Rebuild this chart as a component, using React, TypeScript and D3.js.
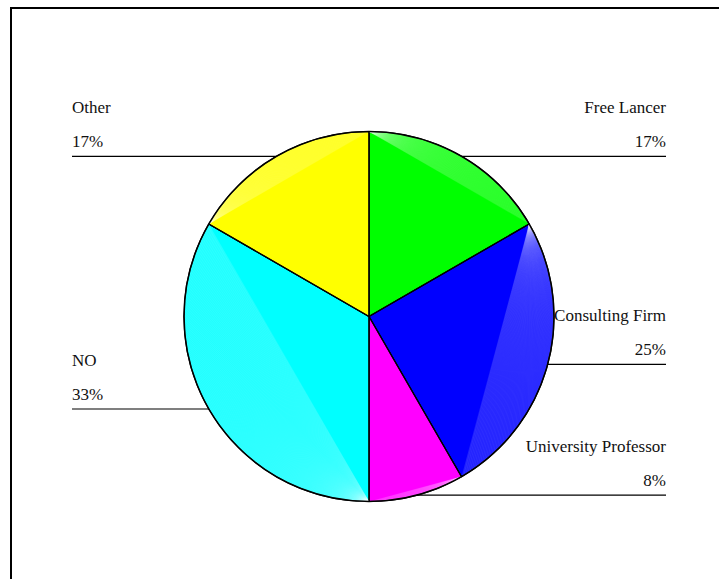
import React from "react";
import * as d3 from "d3";

const categories = ["Free Lancer", "Consulting Firm", "University Professor", "NO", "Other"];
const counts = [2, 3, 1, 4, 2];
const colors = ["#00ff00", "#0000ff", "#ff00ff", "#00ffff", "#ffff00"];

const W = 719;
const H = 579;
const cx = 369;
const cy = 316.5;
const r = 185;
const leftX = 72;
const rightX = 666;
const fontFamily = "'Liberation Serif', 'Times New Roman', serif";

export default function App() {
  const ref = React.useRef<SVGSVGElement>(null);

  React.useEffect(() => {
    const svg = d3.select(ref.current);
    svg.selectAll("*").remove();

    // outer frame, runs off the right and bottom of the page
    svg.append("rect")
      .attr("x", 11).attr("y", 8)
      .attr("width", W + 20).attr("height", H + 20)
      .attr("fill", "none").attr("stroke", "#000").attr("stroke-width", 2);

    const total = d3.sum(counts);
    const pie = d3.pie<number>().sort(null).value(d => d);
    const arcs = pie(counts);
    const arc = d3.arc<d3.PieArcDatum<number>>().innerRadius(0).outerRadius(r);

    const g = svg.append("g").attr("transform", "translate(" + cx + "," + cy + ")");

    // label leader lines from arc midpoint to the label column
    arcs.forEach((a, i) => {
      const mid = (a.startAngle + a.endAngle) / 2;
      const px = cx + r * Math.sin(mid);
      const py = cy - r * Math.cos(mid);
      const right = Math.sin(mid) > 0;
      const lx = right ? rightX : leftX;
      svg.append("line")
        .attr("x1", px).attr("y1", py).attr("x2", lx).attr("y2", py)
        .attr("stroke", "#000").attr("stroke-width", 1.2);
      const pct = Math.round((counts[i] / total) * 100) + "%";
      [categories[i], pct].forEach((t, k) => {
        svg.append("text")
          .attr("x", lx).attr("y", py - (k === 0 ? 43 : 9))
          .attr("text-anchor", right ? "end" : "start")
          .attr("font-family", fontFamily)
          .attr("font-size", 17)
          .attr("fill", "#111")
          .text(t);
      });
    });

    g.selectAll("path.slice")
      .data(arcs)
      .enter().append("path")
      .attr("class", "slice")
      .attr("d", arc)
      .attr("fill", (d, i) => colors[i])
      .attr("stroke", "#000")
      .attr("stroke-width", 1.2)
      .attr("stroke-linejoin", "round");

    // lighter fan shading between the chord and the arc of each slice
    arcs.forEach(a => {
      const n = Math.max(6, Math.round(((a.endAngle - a.startAngle) * r) / 2.5));
      const sx = r * Math.sin(a.startAngle);
      const sy = -r * Math.cos(a.startAngle);
      const ang = d3.range(0, n + 1).map(k => a.startAngle + ((a.endAngle - a.startAngle) * k) / n);
      const seg = ang.map(t => [r * Math.sin(t), -r * Math.cos(t)] as [number, number]);
      g.append("path")
        .attr("d", d3.line()(seg) + "Z")
        .attr("fill", "#fff")
        .attr("fill-opacity", 0.13);
      g.append("g").selectAll("line")
        .data(ang.slice(1, -1))
        .enter().append("line")
        .attr("x1", sx).attr("y1", sy)
        .attr("x2", d => r * Math.sin(d))
        .attr("y2", d => -r * Math.cos(d))
        .attr("stroke", "#fff")
        .attr("stroke-opacity", 0.1)
        .attr("stroke-width", 0.6);
    });

    // outline redraw on top
    g.append("circle").attr("r", r).attr("fill", "none")
      .attr("stroke", "#000").attr("stroke-width", 1.5);
    g.selectAll("line.edge")
      .data(arcs)
      .enter().append("line")
      .attr("class", "edge")
      .attr("x1", 0).attr("y1", 0)
      .attr("x2", d => r * Math.sin(d.startAngle))
      .attr("y2", d => -r * Math.cos(d.startAngle))
      .attr("stroke", "#000").attr("stroke-width", 1.2);
  }, []);

  return (
    <svg
      ref={ref}
      width={W}
      height={H}
      style={{ position: "absolute", left: 0, top: 0, background: "#fff" }}
    />
  );
}
